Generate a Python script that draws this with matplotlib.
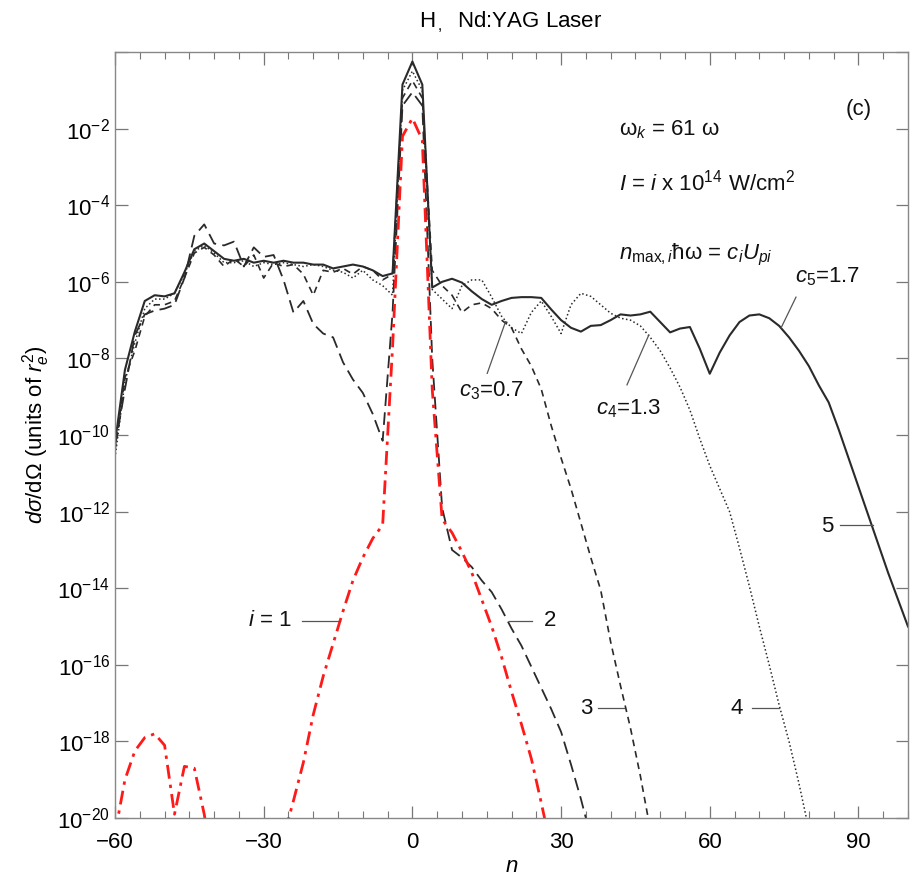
import numpy as np
import matplotlib
matplotlib.use("Agg")
import matplotlib.pyplot as plt
from matplotlib.ticker import FixedLocator, MultipleLocator, FixedFormatter

plt.rcParams['font.family'] = ['Liberation Sans', 'DejaVu Sans']
plt.rcParams['mathtext.fontset'] = 'custom'
plt.rcParams['mathtext.rm'] = 'Liberation Sans'
plt.rcParams['mathtext.it'] = 'Liberation Sans:italic'

# harmonic order n (even values) and log10 of the cross section for each intensity i
n_1 = list(range(-60, 30, 2))
log_1 = [-20.4, -19.0, -18.25, -17.9, -17.8, -18.1, -19.9, -18.65, -18.7, -19.9,
         -21.5, -22.5, -23.0, -23.0, -22.8, -22.2, -21.3, -20.5, -19.55, -18.55,
         -17.3, -16.3, -15.45, -14.6, -13.8, -13.2, -12.7, -12.35, -7.7, -2.2,
         -1.73, -2.3, -8.8, -12.2, -12.55, -13.05, -13.6, -14.3, -15.0, -15.8,
         -16.7, -17.55, -18.45, -19.6, -20.8]

n_2 = list(range(-60, 38, 2))
log_2 = [-10.3, -8.8, -7.4, -6.85, -6.75, -6.7, -6.6, -5.9, -4.8, -4.5,
         -5.0, -5.05, -4.95, -5.6, -5.1, -5.35, -5.3, -5.95, -6.8, -6.5,
         -7.1, -7.35, -7.45, -8.1, -8.55, -8.9, -9.45, -10.15, -6.8, -1.4,
         -1.05, -1.4, -8.0, -11.9, -13.0, -13.2, -13.45, -13.8, -14.1, -14.55,
         -15.05, -15.5, -16.05, -16.6, -17.15, -17.75, -18.6, -19.5, -20.5]

n_3 = list(range(-60, 50, 2))
log_3 = [-10.4, -8.5, -7.8, -6.9, -6.6, -6.6, -6.5, -5.9, -5.25, -5.1,
         -5.3, -5.6, -5.4, -5.6, -5.3, -5.9, -5.5, -5.6, -5.55, -5.8,
         -6.35, -5.7, -5.75, -5.65, -5.8, -5.6, -5.7, -5.95, -5.8, -1.2,
         -0.75, -1.2, -5.7, -6.1, -6.35, -6.8, -6.6, -6.55, -6.7, -7.0,
         -7.2, -7.75, -8.2, -8.8, -9.75, -10.6, -11.4, -12.3, -13.2, -14.05,
         -15.4, -16.55, -17.65, -18.9, -20.3]

n_4 = list(range(-60, 82, 2))
log_4 = [-10.6, -8.6, -7.6, -6.7, -6.45, -6.45, -6.3, -5.8, -5.2, -5.05,
         -5.25, -5.5, -5.5, -5.45, -5.6, -5.5, -5.55, -5.5, -5.55, -5.6,
         -5.55, -5.6, -5.7, -5.75, -5.9, -5.7, -5.95, -6.1, -6.35, -1.0,
         -0.5, -1.0, -6.2, -6.45, -6.7, -6.1, -5.95, -5.95, -6.4, -6.9,
         -7.2, -7.35, -6.8, -6.5, -6.9, -7.35, -6.6, -6.3, -6.38, -6.6,
         -6.82, -6.95, -7.0, -7.15, -7.45, -7.8, -8.25, -8.75, -9.35, -10.1,
         -10.8, -11.4, -12.0, -12.95, -13.95, -15.0, -16.0, -17.05, -18.0, -19.1,
         -20.3]

n_5 = list(range(-60, 102, 2))
log_5 = [-10.2, -8.3, -7.3, -6.5, -6.35, -6.38, -6.3, -5.75, -5.15, -5.0,
         -5.2, -5.4, -5.45, -5.4, -5.5, -5.45, -5.5, -5.45, -5.5, -5.5,
         -5.55, -5.55, -5.65, -5.6, -5.55, -5.6, -5.7, -5.85, -5.78, -0.85,
         -0.25, -0.85, -6.15, -6.0, -5.92, -6.02, -6.25, -6.45, -6.6, -6.5,
         -6.42, -6.4, -6.4, -6.42, -6.72, -7.0, -7.2, -7.3, -7.15, -7.13,
         -7.0, -6.85, -6.88, -6.85, -6.78, -7.05, -7.32, -7.22, -7.18, -7.75,
         -8.4, -7.85, -7.4, -7.05, -6.88, -6.85, -6.95, -7.15, -7.45, -7.8,
         -8.2, -8.7, -9.15, -9.85, -10.6, -11.35, -12.1, -12.85, -13.6, -14.3,
         -15.0]

ytick_exp = [-20, -18, -16, -14, -12, -10, -8, -6, -4, -2, 0]
ytick_lab = [r'$10^{%d}$' % e for e in ytick_exp[:-1]] + ['']
xtick_val = [-60, -30, 0, 30, 60, 90]

fig = plt.figure(figsize=(9.1, 8.86), dpi=100)
ax = fig.add_axes([0.1264, 0.0767, 0.8714, 0.8646])

dark = '#2a2a2a'
ax.plot(n_5, 10.0 ** np.array(log_5), color=dark, lw=1.5, ls='-')
ax.plot(n_4, 10.0 ** np.array(log_4), color=dark, lw=1.1, ls=(0, (1, 1.6)))
ax.plot(n_3, 10.0 ** np.array(log_3), color=dark, lw=1.2, ls=(0, (4, 3)))
ax.plot(n_2, 10.0 ** np.array(log_2), color=dark, lw=1.3, ls=(0, (7, 3.5)))
ax.plot(n_1, 10.0 ** np.array(log_1), color='#ff1a1a', lw=2.0, ls=(0, (5, 2.2, 1.2, 2.2)))

ax.set_yscale('log')
ax.set_xlim(-60, 100)
ax.set_ylim(1e-20, 1e0)

ax.xaxis.set_major_locator(FixedLocator(xtick_val))
ax.xaxis.set_minor_locator(MultipleLocator(5))
ax.xaxis.set_major_formatter(FixedFormatter(['\u221260', '\u221230', '0', '30', '60', '90']))
ax.yaxis.set_major_locator(FixedLocator([10.0 ** e for e in ytick_exp]))
ax.yaxis.set_major_formatter(FixedFormatter(ytick_lab))
ax.yaxis.set_minor_locator(FixedLocator([]))
ax.tick_params(which='both', direction='in', top=True, right=True, color='#777777', labelsize=16)
ax.tick_params(which='major', length=9, width=0.9)
ax.tick_params(which='minor', length=5, width=0.8)
ax.tick_params(axis='x', pad=10)
for s in ax.spines.values():
    s.set_color('#888888')
    s.set_linewidth(1.0)

ax.set_xlabel(r'$n$', fontsize=16, labelpad=2)
ax.set_ylabel(r'$d\sigma$/dΩ (units of $r_e^2$)', fontsize=16, labelpad=4)
fig.text(0.561, 0.975, r'H$_{\,,}$  Nd:YAG Laser', ha='center', va='center', fontsize=16)

txt = dict(fontsize=16, color='#111111')
ax.text(90, 10 ** -1.51, '(c)', ha='center', va='center', **txt)
ax.text(41.6, 10 ** -2.04, 'ω$_k$ = 61 ω', ha='left', va='center', **txt)
ax.text(41.6, 10 ** -3.42, r'$I$ = $i$ x 10$^{14}$ W/cm$^2$', ha='left', va='center', **txt)
ax.text(41.6, 10 ** -5.3, r'$n_{\rm max,\it i}$ħω = $c_iU_{pi}$', ha='left', va='center', **txt)

ax.text(77.2, 10 ** -5.87, r'$c_5$=1.7', ha='left', va='center', **txt)
ax.text(9.4, 10 ** -8.83, r'$c_3$=0.7', ha='left', va='center', **txt)
ax.text(37.0, 10 ** -9.3, r'$c_4$=1.3', ha='left', va='center', **txt)
ax.text(-24.4, 10 ** -14.83, r'$i$ = 1', ha='right', va='center', **txt)
ax.text(26.5, 10 ** -14.83, '2', ha='left', va='center', **txt)
ax.text(35.0, 10 ** -17.14, '3', ha='center', va='center', **txt)
ax.text(65.4, 10 ** -17.14, '4', ha='center', va='center', **txt)
ax.text(83.7, 10 ** -12.39, '5', ha='center', va='center', **txt)

lead = dict(color='#555555', lw=0.9)
ax.plot([77.4, 74.4], [10 ** -6.4, 10 ** -7.2], **lead)
ax.plot([15.1, 18.8], [10 ** -8.39, 10 ** -7.04], **lead)
ax.plot([43.3, 47.7], [10 ** -8.69, 10 ** -7.39], **lead)
ax.plot([-22.3, -14.6], [10 ** -14.85, 10 ** -14.85], **lead)
ax.plot([19.5, 24.2], [10 ** -14.85, 10 ** -14.85], **lead)
ax.plot([37.4, 42.6], [10 ** -17.12, 10 ** -17.12], **lead)
ax.plot([68.5, 74.0], [10 ** -17.12, 10 ** -17.12], **lead)
ax.plot([86.2, 92.9], [10 ** -12.35, 10 ** -12.35], **lead)

plt.savefig('out.png', dpi=100)
